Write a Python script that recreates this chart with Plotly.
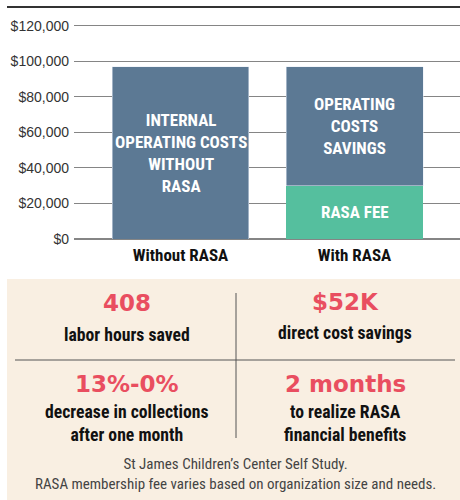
import plotly.graph_objects as go

categories = ["Without RASA", "With RASA"]
internal_costs = [97000, None]
rasa_fee = [None, 30000]
operating_savings = [None, 67000]

internal_label = "INTERNAL<br>OPERATING COSTS<br>WITHOUT<br>RASA"
savings_label = "OPERATING<br>COSTS<br>SAVINGS"
fee_label = "RASA FEE"

tick_vals = [0, 20000, 40000, 60000, 80000, 100000, 120000]
tick_text = ["$0", "$20,000", "$40,000", "$60,000", "$80,000", "$100,000", "$120,000"]

stats = [
    ("408", "labor hours saved"),
    ("$52K", "direct cost savings"),
    ("13%-0%", "decrease in collections<br>after one month"),
    ("2 months", "to realize RASA<br>financial benefits"),
]
footnote = "St James Children’s Center Self Study.<br>RASA membership fee varies based on organization size and needs."

BLUE = "#5C7994"
GREEN = "#55BF9E"
RED = "#E94E60"
BEIGE = "#F9EFE2"
COND = "Roboto Condensed, DejaVu Sans Condensed, sans-serif"
bar_font = dict(family=COND, size=17, color="white", weight="bold")

fig = go.Figure()
fig.add_bar(x=categories, y=internal_costs, marker_color=BLUE, width=0.787, hoverinfo="skip")
fig.add_bar(x=categories, y=rasa_fee, marker_color=GREEN, width=0.787, hoverinfo="skip",
            marker_line=dict(width=0))
fig.add_bar(x=categories, y=operating_savings, marker_color=BLUE, width=0.787, hoverinfo="skip")

# plot area: x 74..460 px, y 8..239 px
L, T, B = 74, 8, 239
PW, PH = 460 - L, B - T

def px_x(p):
    return (p - L) / PW

def px_y(p):
    return (B - p) / PH

annotations = [
    dict(text=internal_label, x=categories[0], y=internal_costs[0] / 2, xref="x", yref="y",
         showarrow=False, font=bar_font),
    dict(text=fee_label, x=categories[1], y=rasa_fee[1] / 2, xref="x", yref="y",
         showarrow=False, font=bar_font),
    dict(text=savings_label, x=categories[1], y=rasa_fee[1] + operating_savings[1] / 2, xref="x", yref="y",
         showarrow=False, font=bar_font),
]

shapes = [
    dict(type="line", xref="paper", yref="paper", x0=px_x(7), x1=1, y0=px_y(7), y1=px_y(7),
         line=dict(color="#333333", width=2)),
    dict(type="rect", xref="paper", yref="paper", x0=px_x(7), x1=1.01, y0=px_y(279), y1=px_y(505),
         fillcolor=BEIGE, line=dict(width=0), layer="below"),
    dict(type="line", xref="paper", yref="paper", x0=px_x(236), x1=px_x(236), y0=px_y(293), y1=px_y(438),
         line=dict(color="#555555", width=1)),
    dict(type="line", xref="paper", yref="paper", x0=px_x(15), x1=px_x(455), y0=px_y(360), y1=px_y(360),
         line=dict(color="#555555", width=1)),
]

centers = [(127, 303, 335), (345, 302, 333), (127, 384, 423), (345, 384, 423)]
for (big, small), (cx, by, sy) in zip(stats, centers):
    annotations.append(dict(text=f"<b>{big}</b>", x=px_x(cx), y=px_y(by), xref="paper", yref="paper",
                            showarrow=False, xanchor="center", yanchor="middle",
                            font=dict(family="DejaVu Sans, sans-serif", size=23, color=RED)))
    annotations.append(dict(text=f"<b>{small}</b>", x=px_x(cx), y=px_y(sy), xref="paper", yref="paper",
                            showarrow=False, xanchor="center", yanchor="middle",
                            font=dict(family=COND, size=17.7, color="#111111")))
annotations.append(dict(text=footnote, x=px_x(235), y=px_y(474), xref="paper", yref="paper",
                        showarrow=False, xanchor="center", yanchor="middle",
                        font=dict(family=COND, size=15, color="#444444")))

fig.update_layout(
    width=460, height=500,
    margin=dict(l=L, r=0, t=T, b=500 - B),
    barmode="stack", showlegend=False,
    paper_bgcolor="white", plot_bgcolor="white",
    xaxis=dict(type="category", range=[-0.612, 1.606], showgrid=False, showline=False,
               ticks="", tickfont=dict(family=COND, size=17, color="#111111", weight="bold"),
               ticklabelstandoff=4),
    yaxis=dict(range=[0, 130000], tickvals=tick_vals, ticktext=tick_text, showgrid=True,
               gridcolor="#858585", gridwidth=1.3, zeroline=True, zerolinecolor="#858585", zerolinewidth=1.5,
               showline=False, ticks="", ticklabelstandoff=4,
               tickfont=dict(family="Liberation Sans, Arial, sans-serif", size=14, color="#333333")),
    shapes=shapes, annotations=annotations,
)

fig.write_html("out.html", config={"displayModeBar": False},
               post_script="document.body.style.margin='0px';")
